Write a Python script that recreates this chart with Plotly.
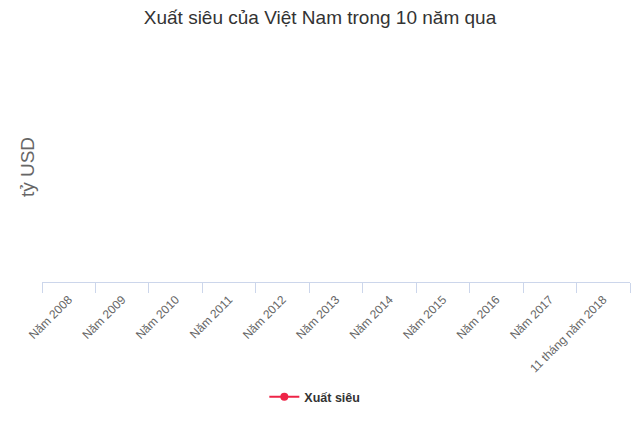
import plotly.graph_objects as go

# Categories on the x axis
categories = ['Năm 2008', 'Năm 2009', 'Năm 2010', 'Năm 2011', 'Năm 2012', 'Năm 2013',
              'Năm 2014', 'Năm 2015', 'Năm 2016', 'Năm 2017', '11 tháng năm 2018']

# The series shows no visible points in the reference
xuat_sieu = [None] * len(categories)

red = '#ee2447'
axis_col = '#ccd6eb'

fig = go.Figure()
fig.add_trace(go.Scatter(
    x=categories, y=xuat_sieu, name='Xuất siêu',
    mode='lines+markers',
    line=dict(color=red, width=2),
    marker=dict(color=red, size=8),
))

# page body has an 8px margin, so margins are shifted to compensate
fig.update_layout(
    width=640, height=427,
    margin=dict(l=34, r=18, t=44, b=153),
    paper_bgcolor='white', plot_bgcolor='white',
    font=dict(family='Liberation Sans, Arial, sans-serif', color='#666666'),
    title=dict(text='Xuất siêu của Việt Nam trong 10 năm qua',
               x=0.4875, xanchor='center', y=0.977, yanchor='middle',
               font=dict(size=19, color='#333333')),
    showlegend=True,
    legend=dict(orientation='h', x=0.464, xanchor='center', y=-0.5, yanchor='middle',
                font=dict(size=12.5, color='#333333', weight=700)),
)

fig.update_xaxes(
    type='category', categoryorder='array', categoryarray=categories,
    range=[-0.5, len(categories) - 0.5],
    tickson='boundaries', ticks='outside', ticklen=10, tickcolor=axis_col,
    showline=True, linecolor=axis_col, linewidth=1,
    showgrid=False, zeroline=False, automargin=False,
    tickangle=-45, tickfont=dict(size=12, color='#666666'), ticklabelstandoff=5,
)

fig.update_yaxes(
    range=[0, 1], automargin=False,
    showticklabels=False, showgrid=False, zeroline=False, showline=False, ticks='',
    title=dict(text='tỷ USD', font=dict(size=19, color='#666666'), standoff=1),
)

fig.write_html('out.html')
